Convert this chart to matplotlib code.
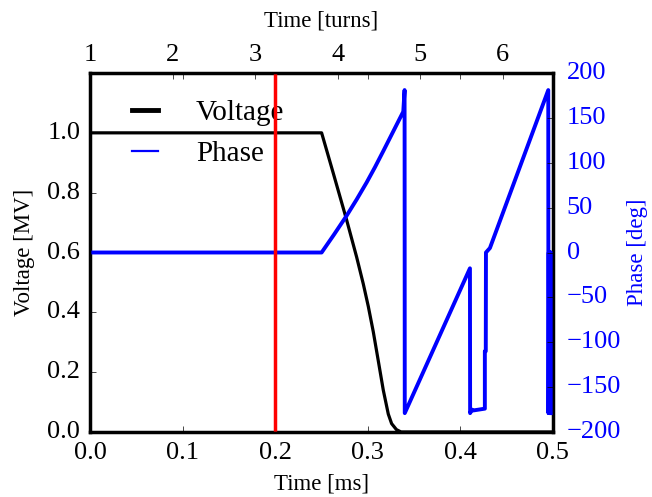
import matplotlib
matplotlib.use("Agg")
import matplotlib.pyplot as plt
from matplotlib.lines import Line2D

plt.style.use("classic")
plt.rcParams["font.family"] = ["Liberation Serif", "DejaVu Serif"]
plt.rcParams["mathtext.fontset"] = "stix"

# ---- data ----
volt_t = [0.0, 0.2502, 0.2628, 0.2772, 0.2880, 0.2952, 0.3006, 0.3060, 0.3114,
          0.3168, 0.3222, 0.3258, 0.331, 0.336, 0.34, 0.5]
volt_v = [1.0, 1.0, 0.865, 0.709, 0.585, 0.495, 0.420, 0.335, 0.238,
          0.140, 0.060, 0.028, 0.008, 0.0, 0.0, 0.0]

phase_t = [0.0, 0.2502, 0.2636, 0.2772, 0.2880, 0.2988, 0.3078, 0.3168, 0.3276,
           0.3384, 0.3398, 0.3400,
           0.4104, 0.4106, 0.4125, 0.4140, 0.4265, 0.4265, 0.4275, 0.4277,
           0.4320, 0.4950, 0.4952, 0.4956, 0.4960, 0.4964, 0.4968, 0.4972,
           0.4976, 0.4980, 0.4984]
phase_deg = [0.0, 0.0, 20.0, 41.0, 59.0, 78.0, 95.0, 113.0, 135.0,
             157.0, 181.0, -179.0,
             -17.6, -179.0, -175.0, -176.0, -174.0, -110.0, -110.0, 0.0,
             5.0, 181.0, -179.0, 0.0, -179.0, 0.0, -179.0, 0.0,
             -179.0, 0.0, -179.0]

marker_time = 0.2          # ms, red vertical line
turn_period = 0.0892       # ms per turn
xlim_ms = (0.0, 0.5)
volt_ticks = [0.0, 0.2, 0.4, 0.6, 0.8, 1.0]
phase_ticks = [-200, -150, -100, -50, 0, 50, 100, 150, 200]
turn_ticks = [1, 2, 3, 4, 5, 6]

# ---- figure ----
fig = plt.figure(figsize=(6.52, 4.97), dpi=100, facecolor="white")
ax = fig.add_axes([0.138, 0.1308, 0.710, 0.7223])
tick_fs = 19
label_fs = 16.5

ax.plot(volt_t, volt_v, color="black", lw=2.3)
ax.set_xlim(*xlim_ms)
ax.set_ylim(0, 1.2)
ax.set_yticks(volt_ticks)
ax.set_xticks([0.0, 0.1, 0.2, 0.3, 0.4, 0.5])
ax.set_xlabel("Time [ms]", fontsize=label_fs, labelpad=7)
ax.set_ylabel("Voltage [MV]", fontsize=label_fs, labelpad=9)
for s in ax.spines.values():
    s.set_linewidth(2.5)

ax2 = ax.twinx()
ax2.plot(phase_t, phase_deg, color="blue", lw=2.8)
ax2.set_ylim(-200, 200)
ax2.set_yticks(phase_ticks)
ax2.set_ylabel("Phase [deg]", color="blue", fontsize=label_fs, labelpad=4)
ax2.tick_params(axis="y", labelcolor="blue", labelsize=tick_fs, pad=10)
ax2.axvline(marker_time, color="red", lw=2.5)

ax3 = ax.twiny()
ax3.set_xlim(1, 1 + xlim_ms[1] / turn_period)
ax3.set_xticks(turn_ticks)
ax3.set_xlabel("Time [turns]", fontsize=label_fs, labelpad=12.5)
ax3.tick_params(axis="x", labelsize=tick_fs, pad=5)

ax.tick_params(axis="x", top=True, labeltop=False, labelsize=tick_fs, pad=7)
ax.tick_params(axis="y", labelsize=tick_fs, pad=7)

handles = [Line2D([], [], color="black", lw=3.5), Line2D([], [], color="blue", lw=1.6)]
leg = ax.legend(handles, ["Voltage", "Phase"], loc="upper left", frameon=False,
                fontsize=21, handlelength=1.5, handletextpad=1.0,
                labelspacing=0.48, borderpad=0.0, borderaxespad=0.0,
                bbox_to_anchor=(0.071, 0.925))

fig.savefig("out.png", dpi=100, facecolor="white")
